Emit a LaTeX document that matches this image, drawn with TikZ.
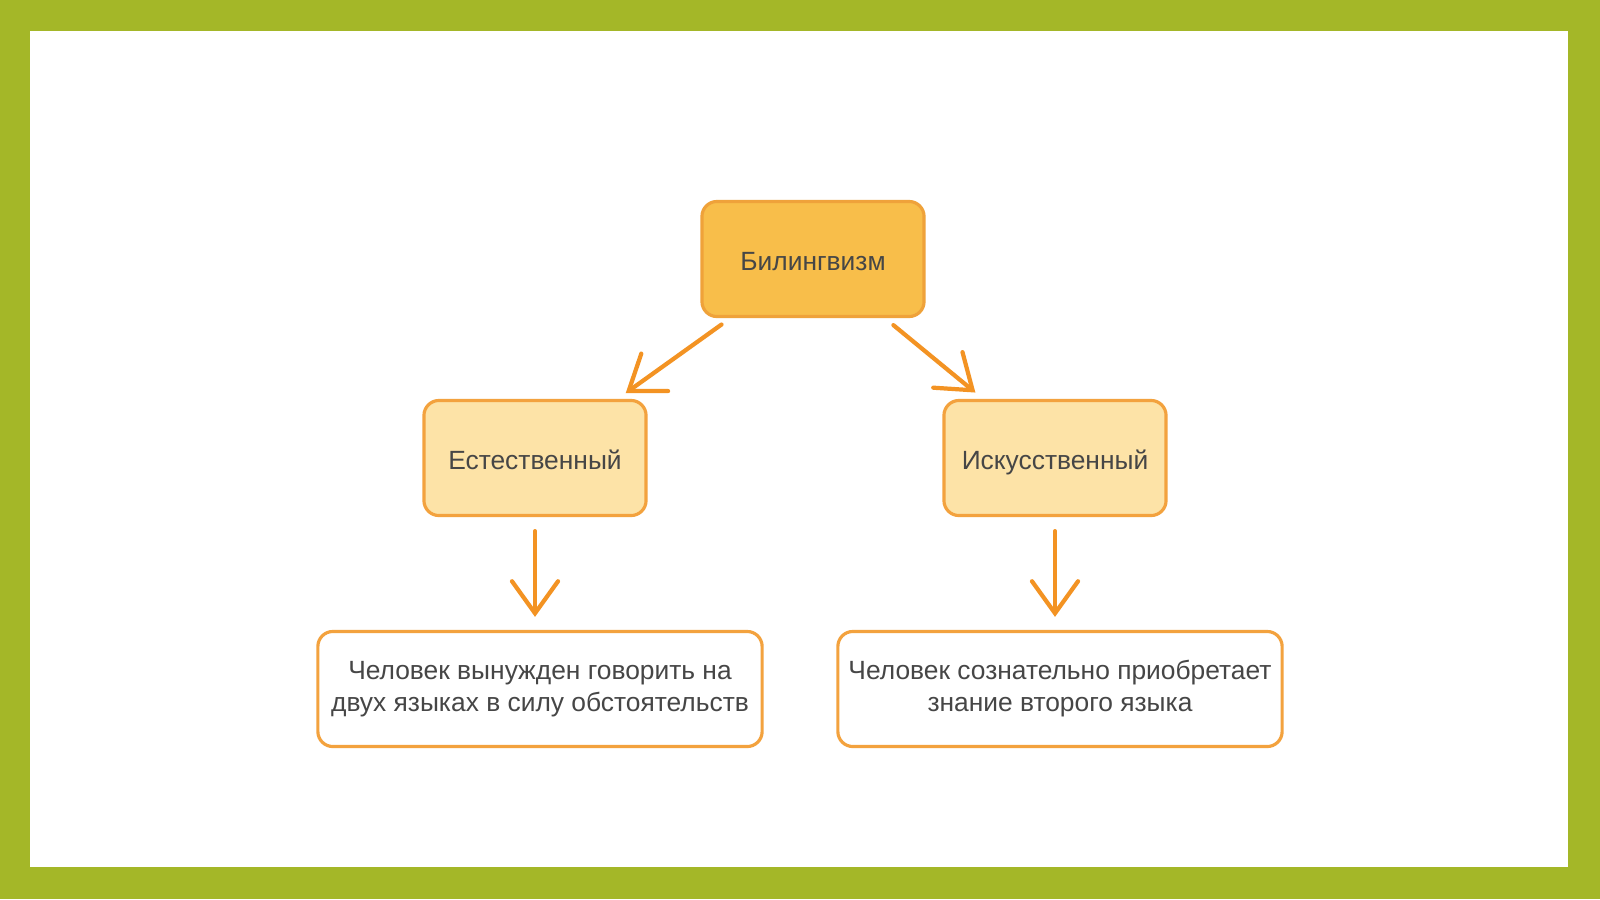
\documentclass[tikz,border=0pt]{standalone}
\usepackage{fontspec}
\setmainfont{Liberation Sans}
\usetikzlibrary{arrows.meta}
\definecolor{frame}{HTML}{A4B728}
\definecolor{topfill}{HTML}{F8BE4A}
\definecolor{topline}{HTML}{EFA23A}
\definecolor{midfill}{HTML}{FDE3A7}
\definecolor{orline}{HTML}{F3A23E}
\definecolor{arrcol}{HTML}{F39323}
\definecolor{txt}{HTML}{464646}
\tikzset{>={Straight Barb[length=0.32cm,width=0.46cm,line cap=round]}}
\tikzset{
  box/.style={draw, rounded corners=0.15cm, line width=0.9pt, inner sep=0pt,
    minimum height=1.15cm, text=txt, font=\fontsize{7.5}{9.1}\selectfont, align=center},
  onebox/.style={box, minimum width=2.22cm, text height=1.4ex, text depth=0.2ex},
  topbox/.style={onebox, draw=topline, fill=topfill},
  midbox/.style={onebox, draw=orline, fill=midfill},
  txtbox/.style={box, draw=orline, fill=white, minimum width=4.44cm},
  arr/.style={->, arrcol, line width=1.2pt, line cap=round}
}

\begin{document}
\begin{tikzpicture}[x=0.01cm, y=-0.01cm]
    \useasboundingbox (0,0) rectangle (1600,899);
    \fill[frame] (0,0) rectangle (1600,899);
    \fill[white] (30,31) rectangle (1568,867);
    % boxes
    \node[topbox] (biling) at (813,259) {Билингвизм};
    \node[midbox] (estest) at (535,458) {Естественный};
    \node[midbox] (iskus) at (1055,458) {Искусственный};
    \node[txtbox] (chel1) at (540,689) {Человек вынужден говорить на\\двух языках в силу обстоятельств};
    \node[txtbox] (chel2) at (1060,689) {Человек сознательно приобретает\\знание второго языка};
    % arrows
    \draw[arr, shorten <=0.11cm, shorten >=0.1cm] (biling) -- (estest);
    \draw[arr, shorten <=0.11cm, shorten >=0.1cm] (biling) -- (iskus);
    \draw[arr, shorten <=0.14cm, shorten >=0.13cm] (estest.south) -- (estest.south |- chel1.north);
    \draw[arr, shorten <=0.14cm, shorten >=0.13cm] (iskus.south) -- (iskus.south |- chel2.north);
\end{tikzpicture}
\end{document}
